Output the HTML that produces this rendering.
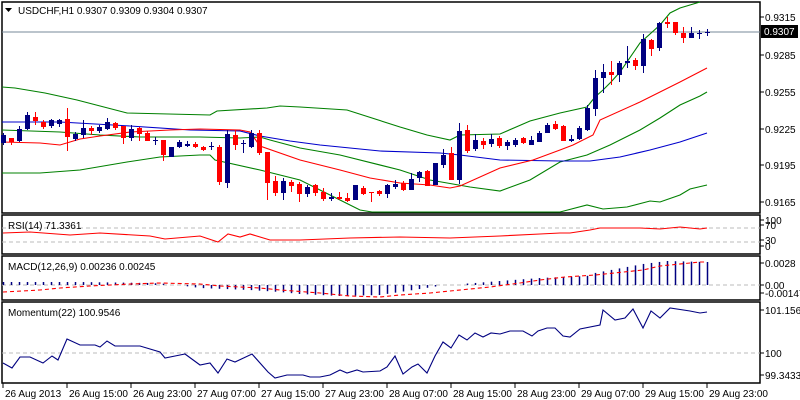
<!DOCTYPE html>
<html><head><meta charset="utf-8"><style>
html,body{margin:0;padding:0;background:#fff;}
svg{display:block;font-family:"Liberation Sans",sans-serif;font-size:10px;}
</style></head><body>
<svg id="s" width="800" height="400" xmlns="http://www.w3.org/2000/svg">
<rect width="800" height="400" fill="#fff"/>
<g stroke="#000" stroke-width="1.5" fill="none">
<rect x="2" y="2" width="758" height="211"/>
<rect x="2" y="215" width="758" height="39"/>
<rect x="2" y="256" width="758" height="44"/>
<rect x="2" y="302" width="758" height="81"/>
</g>
<line x1="2" y1="32" x2="760" y2="32" stroke="#778899"/>
<g id="lines" fill="none" stroke-width="1.1">
<polyline stroke="#008000" points="2,87 15,88 45,93 77,100 127,113 210,115 217,111 267,108 280,106 300,107 347,110 400,127 427,135 450,140 460,135 500,134 530,121 560,113 587,107 595,97 603,90 611,82 620,72 640,43 660,25 670,13 680,8 700,2"/>
<polyline stroke="#008000" points="2,130 60,132 100,135 140,137 200,137 240,138 260,137 270,140 300,148 340,155 400,170 430,180 470,187 500,191 530,180 560,162 587,155 610,145 640,130 660,118 680,105 700,96 707,92"/>
<polyline stroke="#008000" points="2,173 40,173 80,170 127,162 160,157 200,155 210,155 215,160 260,170 300,180 330,195 350,205 360,210 372,212 470,212 560,212 587,205 603,209 627,207 650,201 660,202 680,195 690,189 707,185"/>
<polyline stroke="#0000cc" points="2,122 60,122 130,126 190,130 240,131 260,136 290,141 320,145 350,148 380,151 440,153 460,155 500,160 560,161 590,161 620,157 650,150 680,142 707,133"/>
<polyline stroke="#ff0000" points="2,142 40,143 60,145 80,139 100,136 130,132 170,130 200,129 240,130 250,132 260,146 300,160 340,170 370,178 400,183 430,185 450,188 460,186 500,168 533,160 560,150 573,145 593,135 600,120 640,102 680,82 707,68"/>
</g>
<g id="candles"></g>
<g stroke="#bbb" stroke-dasharray="4,3">
<line x1="2" y1="228" x2="760" y2="228"/><line x1="2" y1="242" x2="760" y2="242"/>
<line x1="2" y1="285" x2="760" y2="285"/>
<line x1="2" y1="353" x2="760" y2="353"/>
</g>
<polyline fill="none" stroke="#ff0000" stroke-width="1.1" points="3,233 30,232 70,235 100,233 150,236 165,239 200,236 218,242 228,234 240,237 250,234 270,240 300,240 350,238 400,237 450,238 500,236 540,234 560,233 570,233 590,230 600,228 640,228 660,229 680,227 700,229 707,228"/>
<g id="macd" stroke="#000080" stroke-width="1.5"></g>
<polyline fill="none" stroke="#ff0000" stroke-width="1.1" stroke-dasharray="4,3" points="3,292 40,290 60,288 90,286 130,284 160,283 200,284 220,286 260,288 280,290 320,293 350,296 380,297 400,295 430,293 450,291 470,289 490,287 520,283 540,280 565,277 595,275 643,270 660,266 700,262 707,262"/>
<polyline fill="none" stroke="#000080" stroke-width="1.1" points="3,363 12,368 20,357 30,357 43,363 52,356 58,360 67,339 80,345 95,345 100,347 107,341 115,346 140,346 160,352 165,358 180,355 185,354 200,365 210,363 218,373 227,359 235,362 252,354 268,372 275,378 287,375 303,375 310,377 320,377 330,375 340,370 347,373 357,370 363,372 380,371 387,367 395,356 403,374 412,367 418,364 427,373 435,356 443,342 451,348 459,335 467,340 475,333 483,337 491,333 500,334 510,331 523,331 532,336 538,331 547,328 555,328 563,336 570,337 580,329 600,325 603,310 615,320 625,318 633,309 643,328 651,311 660,318 670,308 690,311 700,313 707,312"/>
<path d="M5,8 L12,8 L8.5,12 Z" fill="#000"/>
<text x="18" y="14">USDCHF,H1  0.9307 0.9309 0.9304 0.9307</text>
<text x="8" y="229">RSI(14) 71.3361</text>
<text x="8" y="270">MACD(12,26,9) 0.00236 0.00245</text>
<text x="8" y="316">Momentum(22) 100.9546</text>
<g id="axis" fill="#000"></g>
<rect x="761" y="25" width="37" height="13" fill="#000"/>
<text x="764" y="35" fill="#fff">0.9307</text>
</svg>
<script>
var NS="http://www.w3.org/2000/svg";
function el(p,t,a,txt){var e=document.createElementNS(NS,t);for(var k in a)e.setAttribute(k,a[k]);if(txt)e.textContent=txt;p.appendChild(e);return e;}
var C=[[1,135,143,133,145],[0,138,142,138,145],[1,129,141,126,142],[1,115,129,112,130],[0,117,121,112,125],[0,122,127,120,129],[1,120,126,119,128],[1,120,124,119,127],[0,119,137,108,151],[1,134,139,132,141],[1,128,135,120,138],[0,128,131,126,135],[1,127,131,125,133],[1,122,129,118,130],[0,123,128,122,130],[0,126,138,126,144],[1,129,138,125,141],[0,128,134,127,141],[0,133,141,131,141],[1,140,141,137,145],[0,140,155,140,161],[1,147,157,147,157],[1,142,147,140,148],[1,144,146,141,147],[0,144,147,142,148],[0,147,150,146,151],[1,146,147,142,150],[0,147,182,145,185],[1,134,183,130,188],[0,135,145,130,150],[1,143,144,140,153],[1,133,147,130,148],[0,133,153,130,155],[0,152,183,152,200],[0,181,193,176,196],[1,181,193,178,200],[0,182,186,180,192],[0,184,194,182,202],[1,187,194,185,197],[0,185,193,184,196],[0,192,199,188,201],[1,197,199,193,201],[0,197,199,192,200],[0,198,201,193,202],[1,185,200,185,200],[0,188,194,186,195],[0,192,193,192,202],[0,191,194,190,196],[1,185,194,184,198],[1,184,187,180,189],[0,183,190,181,191],[1,179,190,173,190],[1,172,178,171,182],[0,171,186,170,186],[1,163,185,163,185],[1,155,165,149,168],[0,153,180,147,180],[1,131,180,123,184],[0,130,151,125,153],[1,140,149,134,151],[0,141,145,138,149],[1,139,144,134,147],[0,138,146,136,148],[1,142,146,140,150],[1,140,145,138,147],[0,138,143,137,144],[1,140,145,136,145],[1,133,142,131,142],[1,125,133,123,133],[0,124,129,121,130],[0,126,141,125,141],[1,139,141,135,142],[1,128,139,126,140],[1,108,130,105,131],[1,78,109,70,116],[1,72,78,64,93],[0,72,75,61,85],[1,63,75,61,82],[1,61,63,46,68],[0,60,66,58,70],[1,39,66,34,73],[0,40,49,39,56],[1,23,48,22,51],[0,22,24,17,28],[0,22,33,22,35],[0,33,38,27,43],[1,33,38,27,38],[1,33,34,30,39],[1,32,33,29,36]];
var g=document.getElementById("candles");
C.forEach(function(c,i){var x=3+8*i,col=c[0]?"#000080":"#ff0000";
el(g,"line",{x1:x+0.5,x2:x+0.5,y1:c[3],y2:c[4],stroke:col,"stroke-width":1});
el(g,"rect",{x:x-2,y:c[1],width:5,height:Math.max(1,c[2]-c[1]),fill:col});});
var m=document.getElementById("macd");
var pts=[[3,282],[80,282],[150,283],[170,284],[200,288],[250,290],[280,292],[300,294],[340,296],[380,295],[420,289],[445,285],[475,283],[500,281],[540,278],[563,277],[587,276],[595,273],[611,270],[627,267],[643,264],[659,262],[667,261],[707,262]];
function interp(x){for(var k=0;k<pts.length-1;k++){if(x>=pts[k][0]&&x<=pts[k+1][0]){var t=(x-pts[k][0])/(pts[k+1][0]-pts[k][0]);return pts[k][1]+t*(pts[k+1][1]-pts[k][1]);}}return pts[pts.length-1][1];}
for(var i=0;i<C.length;i++){var x=3+8*i+0.5,y=interp(x);if(Math.abs(y-285)>=1)el(m,"line",{x1:x,x2:x,y1:285,y2:y});}
var a=document.getElementById("axis");
[["0.9315",21],["0.9285",59],["0.9255",96],["0.9225",133],["0.9195",169],["0.9165",206],["100",224],["70",229],["30",244],["0",250],["0.0028",267],["0.00",289],["-0.00147",297],["101.1568",314],["100",357],["99.3433",379]].forEach(function(l){
el(a,"line",{x1:760,x2:764,y1:l[1]-4,y2:l[1]-4,stroke:"#000"});el(a,"text",{x:765,y:l[1]},l[0]);});
["26 Aug 2013","26 Aug 15:00","26 Aug 23:00","27 Aug 07:00","27 Aug 15:00","27 Aug 23:00","28 Aug 07:00","28 Aug 15:00","28 Aug 23:00","29 Aug 07:00","29 Aug 15:00","29 Aug 23:00"].forEach(function(t,i){var x=3+64*i;
el(a,"line",{x1:x,x2:x,y1:383,y2:388,stroke:"#000"});el(a,"text",{x:x+2,y:397},t);});
</script>
</body></html>
